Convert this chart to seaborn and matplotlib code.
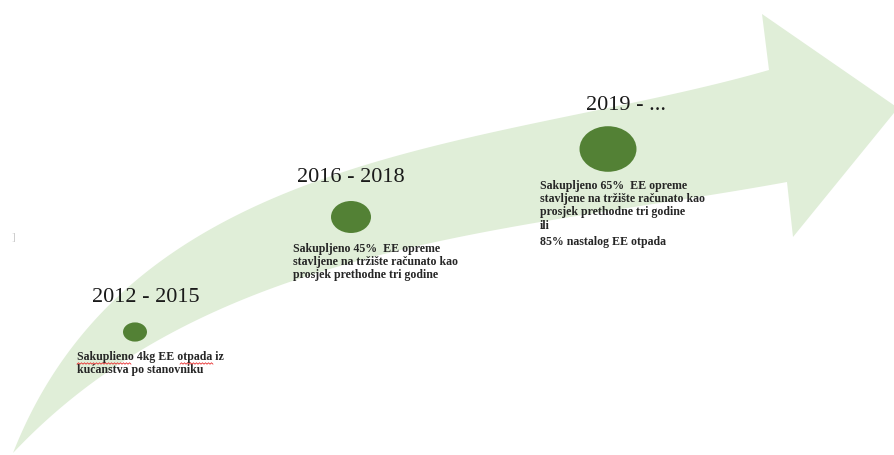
import numpy as np
import matplotlib
matplotlib.use("Agg")
import matplotlib.pyplot as plt
import seaborn as sns
from matplotlib.path import Path
from matplotlib.transforms import Affine2D

# timeline content
periods = ["2012 - 2015", "2016 - 2018", "2019 - ..."]
descriptions = [
    ["Sakuplieno 4kg EE otpada iz\nkućanstva po stanovniku"],
    ["Sakupljeno 45%  EE opreme\nstavljene na tržište računato kao\nprosjek prethodne tri godine"],
    ["Sakupljeno 65%  EE opreme\nstavljene na tržište računato kao\nprosjek prethodne tri godine",
     "ili",
     "85% nastalog EE otpada"],
]

# layout (pixel coordinates, origin top-left)
stage_x = [135, 351, 608]
stage_y = [332, 217, 149]
dot_sizes = [298, 829, 1683]
label_pos = [(92, 298), (297, 177), (586, 105)]
desc_pos = [[(77, 351)], [(293, 243)], [(540, 180), (540, 220), (540, 236)]]

W, H = 895, 455
ARROW = "#e0eed8"
DOT = "#538135"
SERIF = ["Liberation Serif", "DejaVu Serif"]


def bezier_fit(pts, n=200):
    # least-squares cubic bezier with fixed end points
    pts = np.asarray(pts, float)
    d = np.r_[0, np.cumsum(np.hypot(*np.diff(pts, axis=0).T))]
    t = d / d[-1]
    b0, b1, b2, b3 = (1 - t) ** 3, 3 * t * (1 - t) ** 2, 3 * t ** 2 * (1 - t), t ** 3
    rhs = pts - np.outer(b0, pts[0]) - np.outer(b3, pts[-1])
    ctrl, *_ = np.linalg.lstsq(np.c_[b1, b2], rhs, rcond=None)
    s = np.linspace(0, 1, n)[:, None]
    return ((1 - s) ** 3 * pts[0] + 3 * s * (1 - s) ** 2 * ctrl[0]
            + 3 * s ** 2 * (1 - s) * ctrl[1] + s ** 3 * pts[-1])


sns.set_theme(style="white")
fig = plt.figure(figsize=(W / 100, H / 100), dpi=100)
ax = fig.add_axes([0, 0, 1, 1])
ax.set_xlim(0, W)
ax.set_ylim(H, 0)
ax.axis("off")

# curved arrow body + head
upper = bezier_fit([(13, 453), (67, 363), (110, 310), (150, 265), (217, 220), (290, 185),
                    (380, 163), (480, 140), (580, 115), (680, 90), (769, 70)])
lower = bezier_fit([(13, 453), (67, 410), (150, 342), (217, 307), (293, 277), (417, 253),
                    (517, 230), (650, 200), (720, 188), (787, 182)])
head = np.array([(769, 70), (762, 14), (898, 108), (793, 237), (787, 182)])
outline = np.vstack([upper, head, lower[::-1]])
ax.fill(outline[:, 0], outline[:, 1], color=ARROW, lw=0, zorder=1)

# stage dots (slightly flattened)
ellipse = Path.unit_circle().transformed(Affine2D().scale(1, 0.8))
sns.scatterplot(x=stage_x, y=stage_y, size=periods, sizes=dict(zip(periods, dot_sizes)),
                marker=ellipse, color=DOT, linewidth=0, legend=False, ax=ax, zorder=3)

for lab, (lx, ly) in zip(periods, label_pos):
    ax.text(lx, ly, lab, family=SERIF, fontsize=16, color="#1a1a1a",
            ha="left", va="center", zorder=4)

for paras, poss in zip(descriptions, desc_pos):
    for txt, (tx, ty) in zip(paras, poss):
        ax.text(tx, ty, txt, family=SERIF, fontsize=8.6, fontweight="bold", color="#262626",
                ha="left", va="top", linespacing=1.12, zorder=4)

# spell-check squiggles under two words of the first note
for x0, x1 in [(77, 131), (180, 213)]:
    xs = np.arange(x0, x1 + 1, 1.5)
    ax.plot(xs, 363.5 + 0.7 * (-1) ** np.arange(len(xs)), color="#e83030", lw=0.6, zorder=5)

ax.text(13, 237, "]", family=SERIF, fontsize=8, color="#c8c8c8", ha="center", va="center")

fig.savefig("out.png", dpi=100)
